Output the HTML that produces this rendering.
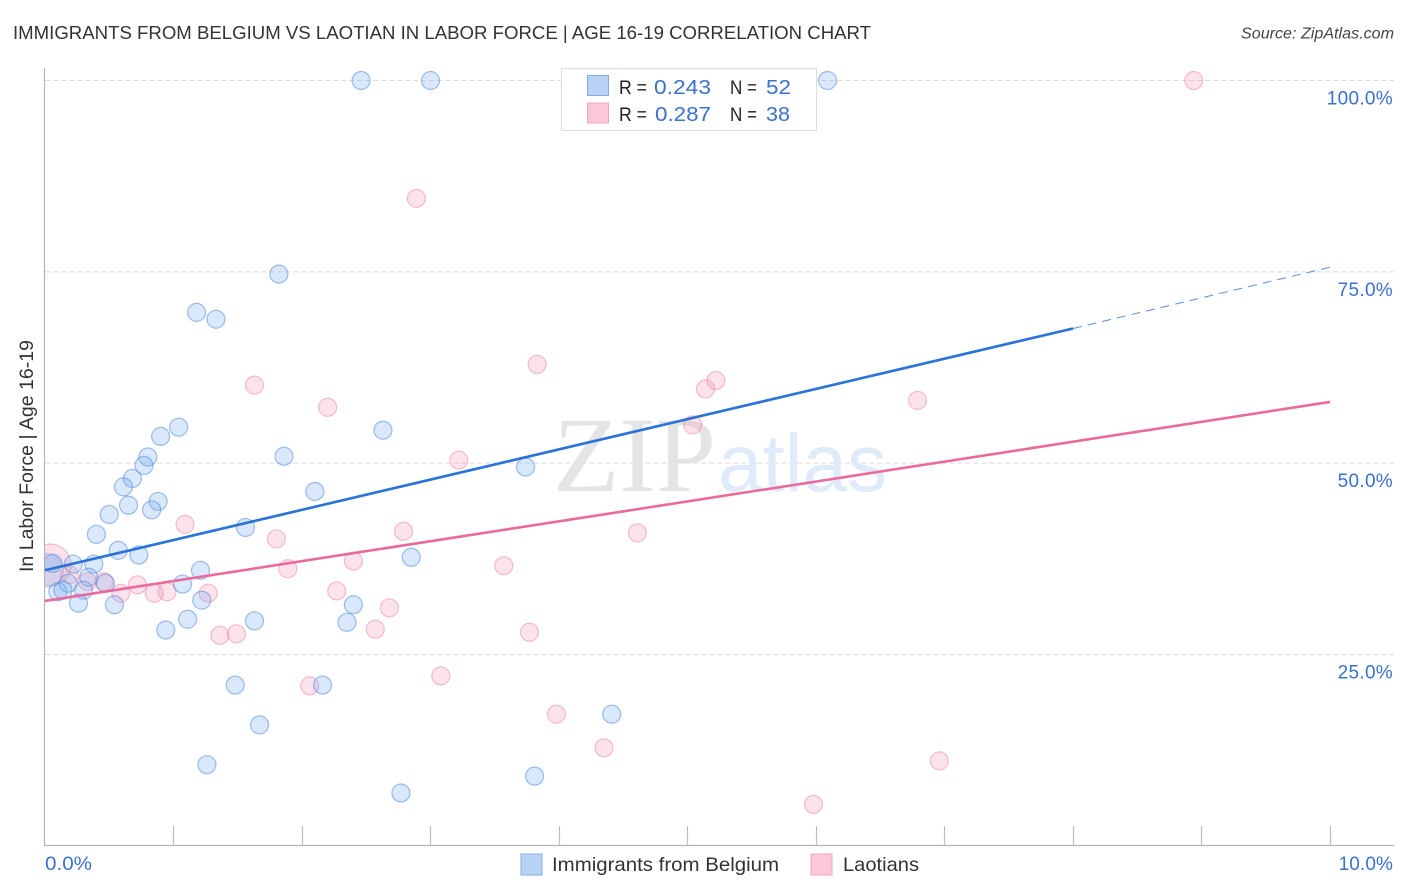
<!DOCTYPE html>
<html lang="en">
<head>
<meta charset="utf-8">
<title>Immigrants from Belgium vs Laotian in Labor Force</title>
<style>
html,body{margin:0;padding:0;background:#fff;}
svg{display:block;font-family:"Liberation Sans",sans-serif;}
</style>
</head>
<body>
<svg id="chart" width="1406" height="892" viewBox="0 0 1406 892" xmlns="http://www.w3.org/2000/svg">
  <rect x="0" y="0" width="1406" height="892" fill="#fff"/>
  <text x="13" y="39" font-size="18.5" fill="#333" textLength="858" lengthAdjust="spacingAndGlyphs">IMMIGRANTS FROM BELGIUM VS LAOTIAN IN LABOR FORCE | AGE 16-19 CORRELATION CHART</text>
  <text x="1241" y="38.5" font-size="15.5" font-style="italic" fill="#444" textLength="153" lengthAdjust="spacingAndGlyphs">Source: ZipAtlas.com</text>

  <g id="grid"></g>

  <g>
    <text x="553" y="491" font-family="'Liberation Serif',serif" font-size="107" fill="#e4e4e4" textLength="163" lengthAdjust="spacingAndGlyphs">ZIP</text>
    <text x="718" y="491" font-size="82" fill="#e0ebfa" textLength="169" lengthAdjust="spacingAndGlyphs">atlas</text>
  </g>

  <g id="pink-points"></g>
  <g id="blue-points"></g>
  <rect x="20" y="520" width="24" height="90" fill="#fff"/>
  <g id="axes"></g>
  <g id="trends"></g>

  <g>
    <rect x="561.5" y="68.5" width="255" height="62" fill="#fff" stroke="#dcdcdc"/>
    <rect x="587.5" y="75.5" width="21" height="20" fill="#b8d3f6" stroke="#84aee4"/>
    <rect x="587.5" y="103" width="21" height="20" fill="#fcc8d9" stroke="#f0a5bf"/>
    <text x="619" y="94" font-size="19.5" fill="#222" textLength="28" lengthAdjust="spacingAndGlyphs">R =</text>
    <text x="654" y="94" font-size="20" fill="#3a70cf" textLength="57" lengthAdjust="spacingAndGlyphs">0.243</text>
    <text x="730" y="94" font-size="19.5" fill="#222" textLength="27" lengthAdjust="spacingAndGlyphs">N =</text>
    <text x="766" y="94" font-size="20" fill="#3a70cf" textLength="25" lengthAdjust="spacingAndGlyphs">52</text>
    <text x="619" y="121" font-size="19.5" fill="#222" textLength="28" lengthAdjust="spacingAndGlyphs">R =</text>
    <text x="655" y="121" font-size="20" fill="#3a70cf" textLength="56" lengthAdjust="spacingAndGlyphs">0.287</text>
    <text x="730" y="121" font-size="19.5" fill="#222" textLength="27" lengthAdjust="spacingAndGlyphs">N =</text>
    <text x="766" y="121" font-size="20" fill="#3a70cf" textLength="24" lengthAdjust="spacingAndGlyphs">38</text>
  </g>

  <text x="-572" y="33" transform="rotate(-90)" font-size="19" fill="#333" textLength="232" lengthAdjust="spacingAndGlyphs">In Labor Force | Age 16-19</text>

  <g>
    <rect x="521" y="854" width="21" height="21" fill="#b8d3f6" stroke="#84aee4"/>
    <text x="552" y="871" font-size="19.5" fill="#333" textLength="227" lengthAdjust="spacingAndGlyphs">Immigrants from Belgium</text>
    <rect x="811" y="854" width="21" height="21" fill="#fcc8d9" stroke="#f0a5bf"/>
    <text x="843" y="871" font-size="19.5" fill="#333" textLength="76" lengthAdjust="spacingAndGlyphs">Laotians</text>
  </g>
</svg>
<script>
const xTickValues = [0, 1, 2, 3, 4, 5, 6, 7, 8, 9, 10];
const yTickValues = [100, 75, 50, 25];
const yTickLabels = ["100.0%", "75.0%", "50.0%", "25.0%"];
const xEndLabels = ["0.0%", "10.0%"];

const blueX = [2.46,3.00,6.09,1.82,1.18,1.33,1.04,0.90,2.63,0.80,1.86,0.77,3.74,0.68,0.61,2.10,0.88,0.83,0.65,0.50,1.56,0.40,0.57,0.73,2.85,0.06,0.22,0.38,1.21,0.34,1.07,0.47,0.18,0.30,0.10,0.14,1.22,0.26,0.54,2.40,2.35,1.63,1.11,0.94,1.48,2.16,1.67,4.41,1.26,3.81,2.77,0.01];
const blueY = [100,100,100,74.7,69.7,68.8,54.7,53.5,54.3,50.8,50.9,49.7,49.5,48.0,46.9,46.3,45.0,43.9,44.5,43.3,41.6,40.7,38.6,38.0,37.7,36.9,36.8,36.8,36.0,35.1,34.2,34.3,34.3,33.4,33.2,33.4,32.1,31.7,31.5,31.5,29.2,29.4,29.6,28.2,21.0,21.0,15.8,17.2,10.6,9.1,6.9,36.0];
const blueWeight = [1,1,1,1,1,1,1,1,1,1,1,1,1,1,1,1,1,1,1,1,1,1,1,1,1,1,1,1,1,1,1,1,1,1,1,1,1,1,1,1,1,1,1,1,1,1,1,1,1,1,1,3.6];

const pinkX = [8.94,2.89,3.83,5.22,5.14,1.63,2.20,6.79,5.04,3.22,1.09,2.79,4.61,1.80,2.40,1.89,3.57,2.27,2.68,1.27,0.95,0.85,0.72,0.59,0.33,0.46,0.19,0.04,2.57,3.77,1.36,1.49,3.08,2.06,3.98,4.35,6.96,5.98];
const pinkY = [100,84.6,62.9,60.8,59.7,60.2,57.3,58.2,55.0,50.4,42.0,41.1,40.9,40.1,37.2,36.2,36.6,33.3,31.1,33.0,33.2,33.0,34.1,33.0,34.5,34.5,35.4,36.7,28.3,27.9,27.5,27.7,22.2,20.9,17.2,12.8,11.1,5.4];
const pinkWeight = [1,1,1,1,1,1,1,1,1,1,1,1,1,1,1,1,1,1,1,1,1,1,1,1,1,1,1,5.4,1,1,1,1,1,1,1,1,1,1];

const blueTrendStart = 36.0;
const blueTrendEnd = 67.6;
const blueTrendEndX = 8;
const blueTrendForecast = 75.6;
const pinkTrendStart = 32.0;
const pinkTrendEnd = 58.0;

const SVGNS = "http://www.w3.org/2000/svg";
function xPos(v) { return 45 + v * 128.5; }
function yPos(v) { return 845.8 - v * 7.653; }
function radius(w) { return 9 * Math.sqrt(w); }
function make(tag, attrs, parent) {
  const el = document.createElementNS(SVGNS, tag);
  for (const k in attrs) el.setAttribute(k, attrs[k]);
  parent.appendChild(el);
  return el;
}

const grid = document.getElementById("grid");
const axes = document.getElementById("axes");
const bluePoints = document.getElementById("blue-points");
const pinkPoints = document.getElementById("pink-points");
const trends = document.getElementById("trends");

yTickValues.forEach(function (v, i) {
  const y = yPos(v);
  const line = make("line", {x1: 45, x2: 1394, y1: y, y2: y, stroke: "#dcdcdc", "stroke-dasharray": "5 3"}, grid);
  
  
  const label = make("text", {x: 1393, y: yPos(v) + 24, "font-size": 19, "letter-spacing": 0.3, fill: "#3a70cf", "text-anchor": "end"}, axes);
  label.textContent = yTickLabels[i];
  
  
});

const yAxis = make("line", {x1: 44.5, x2: 44.5, y1: 68, y2: 846, stroke: "#b4b4b4", "stroke-width": 1.2}, axes);


const xAxis = make("line", {x1: 44, x2: 1394, y1: 845.5, y2: 845.5, stroke: "#b4b4b4", "stroke-width": 1.2}, axes);



xTickValues.forEach(function (v) {
  if (v === 0) return;
  const x = Math.floor(xPos(v)) + 0.5;
  const tick = make("line", {x1: x, x2: x, y1: 826, y2: 846, stroke: "#bcbcbc", "stroke-width": 1.2}, axes);
  
  
});

const xLabelLeft = make("text", {x: 45, y: 870, "font-size": 19, fill: "#3a70cf", textLength: 47, lengthAdjust: "spacingAndGlyphs"}, axes);
xLabelLeft.textContent = xEndLabels[0];


const xLabelRight = make("text", {x: 1393, y: 870, "font-size": 19, "letter-spacing": 0.1, fill: "#3a70cf", "text-anchor": "end"}, axes);
xLabelRight.textContent = xEndLabels[1];



pinkX.forEach(function (v, i) {
  const c = make("circle", {cx: xPos(v), cy: yPos(pinkY[i]), r: radius(pinkWeight[i]), fill: "rgba(246,150,182,0.28)", stroke: "rgba(236,130,165,0.5)", "stroke-width": 1.2}, pinkPoints);
  
  
});
blueX.forEach(function (v, i) {
  const c = make("circle", {cx: xPos(v), cy: yPos(blueY[i]), r: radius(blueWeight[i]), fill: "rgba(120,172,240,0.28)", stroke: blueWeight[i] > 1 ? "rgba(70,130,215,0.2)" : "rgba(70,130,215,0.5)", "stroke-width": 1.2}, bluePoints);
  
  
});

const blueLine = make("line", {x1: xPos(0), y1: yPos(blueTrendStart), x2: xPos(blueTrendEndX), y2: yPos(blueTrendEnd), stroke: "#2a73d9", "stroke-width": 2.6}, trends);


const blueDash = make("line", {x1: xPos(blueTrendEndX), y1: yPos(blueTrendEnd), x2: xPos(10), y2: yPos(blueTrendForecast), stroke: "#5b8fd8", "stroke-width": 1, "stroke-dasharray": "9 6"}, trends);


const pinkLine = make("line", {x1: xPos(0), y1: yPos(pinkTrendStart), x2: xPos(10), y2: yPos(pinkTrendEnd), stroke: "#ea6a9b", "stroke-width": 2.6}, trends);


</script>
</body>
</html>
